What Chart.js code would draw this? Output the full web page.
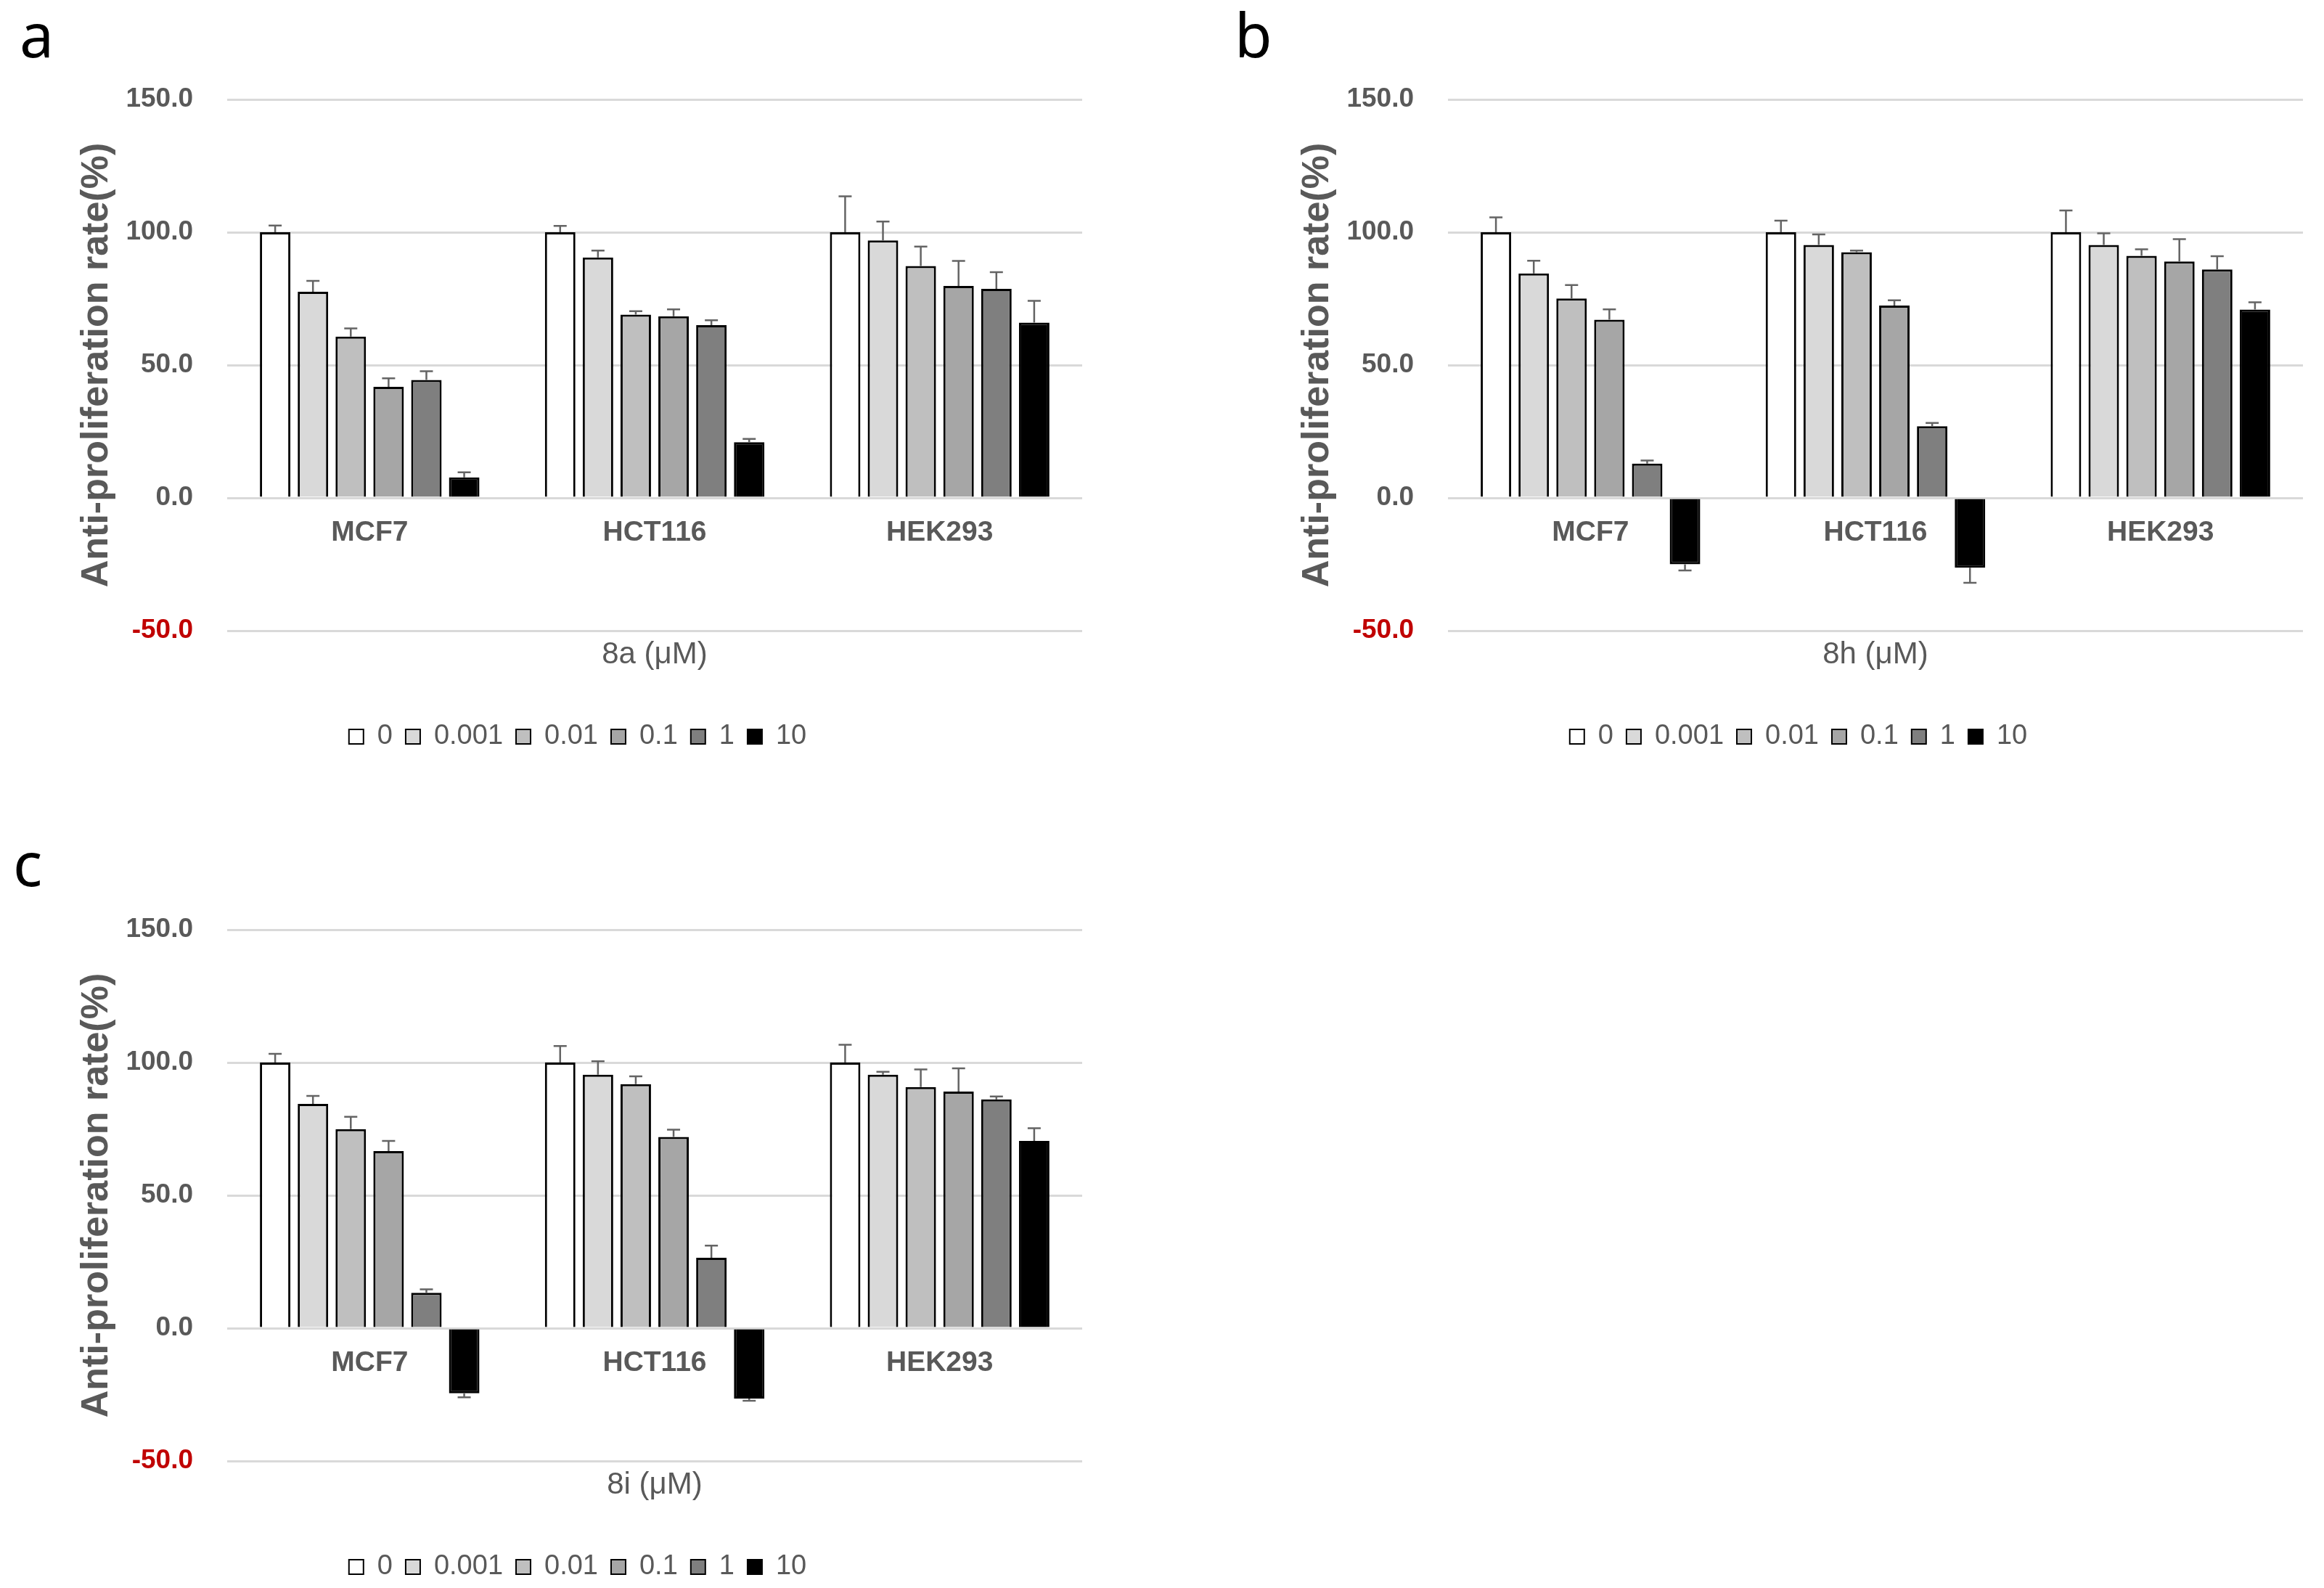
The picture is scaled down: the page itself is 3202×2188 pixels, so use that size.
<!DOCTYPE html>
<html>
<head>
<meta charset="utf-8">
<script src="https://cdn.jsdelivr.net/npm/chart.js@4.4.1/dist/chart.umd.min.js"></script>
<style>
html,body{margin:0;padding:0;background:#fff;}
#page{position:relative;width:3202px;height:2188px;overflow:hidden;background:#fff;}
canvas{position:absolute;}
.plabel{position:absolute;font-family:'Noto Sans',sans-serif;font-size:84px;line-height:84px;color:#000;}
</style>
</head>
<body>
<div id="page">
<canvas id="ca" width="1592" height="1044" style="left:0;top:0;width:1592px;height:1044px"></canvas>
<canvas id="cb" width="1592" height="1044" style="left:1682px;top:0;width:1592px;height:1044px"></canvas>
<canvas id="cc" width="1592" height="1044" style="left:0;top:1144px;width:1592px;height:1044px"></canvas>
<div class="plabel" style="left:27px;top:5px">a</div>
<div class="plabel" style="left:1701px;top:5px">b</div>
<div class="plabel" style="left:18px;top:1147px">c</div>
</div>
<script>
// ---- categories / legend / ticks ----
const cellLines = ['MCF7', 'HCT116', 'HEK293'];
const concentrations = ['0', '0.001', '0.01', '0.1', '1', '10'];
const yTickValues = [-50, 0, 50, 100, 150];

// ---- panel a : 8a (values per cell line, ordered by concentration) ----
const a_MCF7      = [100.0, 77.6, 60.7, 41.8, 44.4, 7.7];
const a_MCF7_err  = [2.5, 4.1, 3.1, 3.2, 3.3, 1.9];
const a_HCT116    = [100.0, 90.5, 69.0, 68.4, 65.0, 21.0];
const a_HCT116_err= [2.4, 2.6, 1.3, 2.6, 1.9, 1.2];
const a_HEK293    = [100.0, 96.9, 87.3, 79.8, 78.7, 66.0];
const a_HEK293_err= [13.5, 7.1, 7.3, 9.4, 6.3, 8.2];

// ---- panel b : 8h ----
const b_MCF7      = [100.0, 84.5, 75.1, 67.1, 12.9, -25.0];
const b_MCF7_err  = [5.6, 4.8, 5.0, 3.9, 1.2, 2.3];
const b_HCT116    = [100.0, 95.2, 92.5, 72.4, 27.0, -26.3];
const b_HCT116_err= [4.4, 4.0, 0.6, 2.0, 1.2, 5.7];
const b_HEK293    = [100.0, 95.2, 91.1, 89.0, 86.0, 70.9];
const b_HEK293_err= [8.2, 4.4, 2.5, 8.4, 5.0, 2.7];

// ---- panel c : 8i ----
const c_MCF7      = [100.0, 84.4, 74.9, 66.7, 13.3, -24.5];
const c_MCF7_err  = [3.3, 3.0, 4.7, 3.8, 1.3, 1.5];
const c_HCT116    = [100.0, 95.4, 91.9, 72.0, 26.5, -26.5];
const c_HCT116_err= [6.2, 5.1, 2.9, 2.7, 4.6, 0.8];
const c_HEK293    = [100.0, 95.4, 90.8, 89.1, 86.1, 70.5];
const c_HEK293_err= [6.7, 1.1, 6.6, 8.7, 1.1, 4.8];

// ---- styles ----
const barFills = ['#ffffff', '#d9d9d9', '#bfbfbf', '#a6a6a6', '#7f7f7f', '#000000'];
const GREY = '#595959';

Chart.defaults.font.family = "'Liberation Sans', Arial, sans-serif";

const errorBars = {
  id: 'errorBars',
  afterDatasetsDraw(chart) {
    const ctx = chart.ctx;
    const ys = chart.scales.y;
    ctx.save();
    ctx.strokeStyle = '#646464';
    ctx.lineWidth = 2.5;
    chart.data.datasets.forEach((ds, i) => {
      const meta = chart.getDatasetMeta(i);
      meta.data.forEach((bar, j) => {
        const v = ds.data[j];
        const e = ds.errors[j];
        const y0 = ys.getPixelForValue(v);
        const y1 = ys.getPixelForValue(v < 0 ? v - e : v + e);
        ctx.beginPath();
        ctx.moveTo(bar.x, y0);
        ctx.lineTo(bar.x, y1);
        ctx.moveTo(bar.x - 9, y1);
        ctx.lineTo(bar.x + 9, y1);
        ctx.stroke();
      });
    });
    ctx.restore();
  }
};

function makeChart(id, xTitle, rows, errs) {
  const datasets = concentrations.map((c, k) => ({
    label: c,
    data: rows.map(r => r[k]),
    errors: errs.map(r => r[k]),
    backgroundColor: barFills[k],
    borderColor: '#000000',
    borderWidth: 3,
    categoryPercentage: 0.796,
    barPercentage: 0.806
  }));
  return new Chart(document.getElementById(id), {
    type: 'bar',
    data: { labels: cellLines, datasets },
    plugins: [errorBars],
    options: {
      responsive: false,
      animation: false,
      devicePixelRatio: 1,
      layout: { padding: { left: 0, right: 0, top: 137, bottom: 0 } },
      scales: {
        x: {
          type: 'category',
          position: { y: 0 },
          grid: { display: false, drawTicks: false },
          border: { display: false },
          ticks: { font: { size: 39, weight: 'bold' }, color: GREY, padding: 25, maxRotation: 0, autoSkip: false }
        },
        y: {
          position: 'left',
          min: -50, max: 150,
          afterBuildTicks: s => { s.ticks = yTickValues.map(v => ({ value: v })); },
          afterFit: s => { s.width = 313; },
          grid: { color: '#d9d9d9', lineWidth: 3, drawTicks: false },
          border: { display: false },
          ticks: {
            padding: 47,
            font: { size: 37, weight: 'bold' },
            color: c => (c.tick && c.tick.value === -50) ? '#c00000' : GREY,
            callback: v => Number(v).toFixed(1)
          },
          title: {
            display: true, text: 'Anti-proliferation rate(%)', color: GREY,
            font: { size: 52, weight: 'bold' }, padding: { top: 102, bottom: 0 }
          }
        },
        yR: {
          position: 'right',
          grid: { display: false, drawTicks: false },
          border: { display: false },
          ticks: { display: false },
          afterFit: s => { s.width = 101; }
        }
      },
      plugins: {
        legend: {
          position: 'bottom',
          weight: 1000,
          labels: {
            boxWidth: 20, boxHeight: 20, padding: 18, color: GREY,
            font: { size: 38 },
            generateLabels: chart => Chart.defaults.plugins.legend.labels.generateLabels(chart)
              .map(l => Object.assign(l, { lineWidth: 2, strokeStyle: '#000000' }))
          }
        },
        title: {
          display: true, position: 'bottom', fullSize: false, weight: 500,
          text: xTitle, color: GREY, font: { size: 42, weight: 'normal' },
          padding: { top: 8, bottom: 50.6 }
        },
        tooltip: { enabled: false }
      }
    }
  });
}

makeChart('ca', '8a (\u03bcM)', [a_MCF7, a_HCT116, a_HEK293], [a_MCF7_err, a_HCT116_err, a_HEK293_err]);
makeChart('cb', '8h (\u03bcM)', [b_MCF7, b_HCT116, b_HEK293], [b_MCF7_err, b_HCT116_err, b_HEK293_err]);
makeChart('cc', '8i (\u03bcM)', [c_MCF7, c_HCT116, c_HEK293], [c_MCF7_err, c_HCT116_err, c_HEK293_err]);
</script>
</body>
</html>
